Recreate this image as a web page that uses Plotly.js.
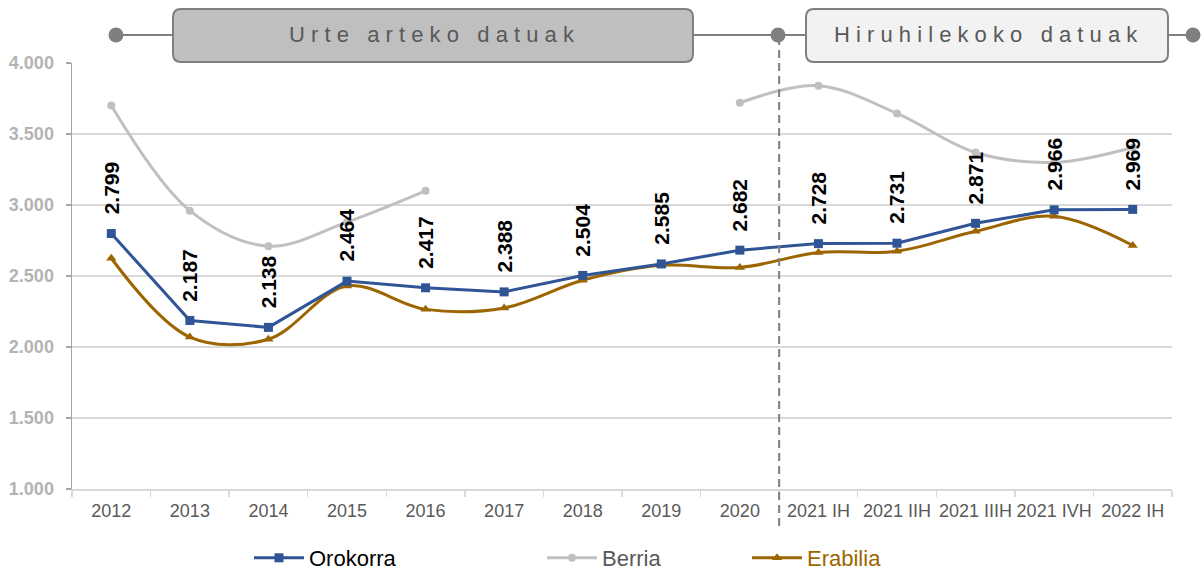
<!DOCTYPE html>
<html>
<head>
<meta charset="utf-8">
<script src="https://cdn.plot.ly/plotly-3.0.1.min.js"></script>
<style>
  html, body { margin: 0; padding: 0; background: #ffffff; }
  #chart { width: 1204px; height: 572px; }
</style>
</head>
<body>
<div id="chart"></div>
<script>
// ---- Data ----
const categories = ['2012', '2013', '2014', '2015', '2016', '2017', '2018', '2019', '2020',
                    '2021 IH', '2021 IIH', '2021 IIIH', '2021 IVH', '2022 IH'];
const orokorra = [2799, 2187, 2138, 2464, 2417, 2388, 2504, 2585, 2682, 2728, 2731, 2871, 2966, 2969];
const berria   = [3700, 2960, 2710, 2880, 3100, null, null, null, 3720, 3840, 3645, 3370, 3300, 3405];
const erabilia = [2625, 2070, 2055, 2430, 2265, 2275, 2470, 2575, 2560, 2665, 2675, 2815, 2920, 2715];
const seriesNames = ['Orokorra', 'Berria', 'Erabilia'];
const sectionTitles = ['Urte arteko datuak', 'Hiruhilekoko datuak'];
const yTicks = [1000, 1500, 2000, 2500, 3000, 3500, 4000];

// ---- Layout helpers ----
const FONT = 'Arial, "Liberation Sans", sans-serif';
const L = 72, R = 32, T = 63, B = 83, WIDTH = 1204, HEIGHT = 572;
const PW = WIDTH - L - R, PH = HEIGHT - T - B;
const px = x => (x - L) / PW;          // pixel x -> paper x
const py = y => (HEIGHT - B - y) / PH; // pixel y -> paper y

function spaced(s) {
  return s.split('').map(c => c === ' ' ? '\u00A0' : c).join('\u00A0');
}
function fmt(v) {
  return String(v).replace(/\B(?=(\d{3})+(?!\d))/g, '.');
}
function roundRect(x0, y0, x1, y1, r) {
  const rx = r / PW, ry = r / PH;
  const X0 = px(x0), X1 = px(x1), Y0 = py(y0), Y1 = py(y1);
  return `M ${X0 + rx} ${Y0} L ${X1 - rx} ${Y0} Q ${X1} ${Y0} ${X1} ${Y0 - ry} ` +
         `L ${X1} ${Y1 + ry} Q ${X1} ${Y1} ${X1 - rx} ${Y1} L ${X0 + rx} ${Y1} ` +
         `Q ${X0} ${Y1} ${X0} ${Y1 + ry} L ${X0} ${Y0 - ry} Q ${X0} ${Y0} ${X0 + rx} ${Y0} Z`;
}

// ---- Traces ----
const traces = [
  {
    x: categories, y: berria, name: seriesNames[1], type: 'scatter', mode: 'lines+markers',
    line: {color: '#C0C0C0', width: 3, shape: 'spline', smoothing: 1},
    marker: {symbol: 'circle', size: 8, color: '#C0C0C0'},
    connectgaps: false, legend: 'legend2', hoverinfo: 'skip'
  },
  {
    x: categories, y: erabilia, name: seriesNames[2], type: 'scatter', mode: 'lines+markers',
    line: {color: '#9C6500', width: 3, shape: 'spline', smoothing: 1},
    marker: {symbol: 'triangle-up', size: 9, color: '#9C6500'},
    legend: 'legend3', hoverinfo: 'skip'
  },
  {
    x: categories, y: orokorra, name: seriesNames[0], type: 'scatter', mode: 'lines+markers',
    line: {color: '#2F5597', width: 3},
    marker: {symbol: 'square', size: 9, color: '#2F5597'},
    legend: 'legend', hoverinfo: 'skip'
  }
];

// ---- Data labels (category index positions on the category axis) ----
const annotations = categories.map((c, i) => ({
  x: i, y: orokorra[i], xref: 'x', yref: 'y',
  text: fmt(orokorra[i]), textangle: -90, showarrow: false,
  xanchor: 'center', yanchor: 'bottom', yshift: 17,
  font: {family: FONT, size: 21, color: '#000000', weight: 'bold'}
}));

annotations.push({
  xref: 'paper', yref: 'paper', x: px(432), y: py(35), xanchor: 'center', yanchor: 'middle',
  text: spaced(sectionTitles[0]), showarrow: false,
  font: {family: FONT, size: 22, color: '#595959'}
});
annotations.push({
  xref: 'paper', yref: 'paper', x: px(986), y: py(35), xanchor: 'center', yanchor: 'middle',
  text: spaced(sectionTitles[1]), showarrow: false,
  font: {family: FONT, size: 22, color: '#595959'}
});

// ---- Decorative shapes ----
const shapes = [
  {type: 'line', xref: 'paper', yref: 'paper', x0: px(116), x1: px(1193), y0: py(35), y1: py(35),
   line: {color: '#7F7F7F', width: 2}, layer: 'above'},
  {type: 'line', xref: 'x', yref: 'paper', x0: 8.5, x1: 8.5, y0: py(526), y1: py(40),
   line: {color: '#7F7F7F', width: 2, dash: '8px,5px'}, layer: 'above'},
  {type: 'path', xref: 'paper', yref: 'paper', path: roundRect(173, 9, 693, 62, 8),
   fillcolor: '#BFBFBF', line: {color: '#7F7F7F', width: 2}, layer: 'above'},
  {type: 'path', xref: 'paper', yref: 'paper', path: roundRect(806, 9, 1168, 62, 8),
   fillcolor: '#F2F2F2', line: {color: '#7F7F7F', width: 2}, layer: 'above'}
];
[116, 778, 1193].forEach(cx => {
  shapes.push({type: 'circle', xref: 'paper', yref: 'paper',
    x0: px(cx - 7.5), x1: px(cx + 7.5), y0: py(35 + 7.5), y1: py(35 - 7.5),
    fillcolor: '#7F7F7F', line: {color: '#7F7F7F', width: 0}, layer: 'above'});
});

const legendBase = {
  orientation: 'h', xanchor: 'left', yanchor: 'middle', y: py(558), itemwidth: 50,
  bgcolor: 'rgba(0,0,0,0)', borderwidth: 0, itemclick: false, itemdoubleclick: false
};

const layout = {
  width: WIDTH, height: HEIGHT,
  margin: {l: L, r: R, t: T, b: B, pad: 0, autoexpand: false},
  paper_bgcolor: '#ffffff', plot_bgcolor: '#ffffff',
  separators: ',.',
  font: {family: FONT, color: '#595959'},
  showlegend: true,
  xaxis: {
    type: 'category', categoryorder: 'array', categoryarray: categories,
    range: [-0.5, categories.length - 0.5], automargin: false,
    showgrid: false, zeroline: false,
    showline: true, linecolor: '#D9D9D9', linewidth: 1.5,
    ticks: 'outside', tickson: 'boundaries', ticklen: 6, tickcolor: '#D9D9D9', tickwidth: 1.5,
    tickangle: 0,
    tickfont: {family: FONT, size: 18, color: '#595959'},
    ticklabelstandoff: 5, fixedrange: true
  },
  yaxis: {
    range: [1000, 4000], tickvals: yTicks, tickformat: ',d', automargin: false,
    showgrid: true, gridcolor: '#D9D9D9', gridwidth: 1.5, zeroline: false,
    showline: true, linecolor: '#A6A6A6', linewidth: 1.5,
    ticks: 'outside', ticklen: 5, tickcolor: '#A6A6A6', tickwidth: 1.5,
    tickfont: {family: FONT, size: 18, color: '#B3B3B3', weight: 'bold'},
    ticklabelstandoff: 8, fixedrange: true
  },
  legend:  Object.assign({}, legendBase, {x: px(249), font: {family: FONT, size: 22, color: '#000000'}}),
  legend2: Object.assign({}, legendBase, {x: px(542), font: {family: FONT, size: 22, color: '#595959'}}),
  legend3: Object.assign({}, legendBase, {x: px(747), font: {family: FONT, size: 22, color: '#9C6500'}}),
  annotations: annotations,
  shapes: shapes
};

Plotly.newPlot('chart', traces, layout, {displayModeBar: false, staticPlot: true});
</script>
</body>
</html>
